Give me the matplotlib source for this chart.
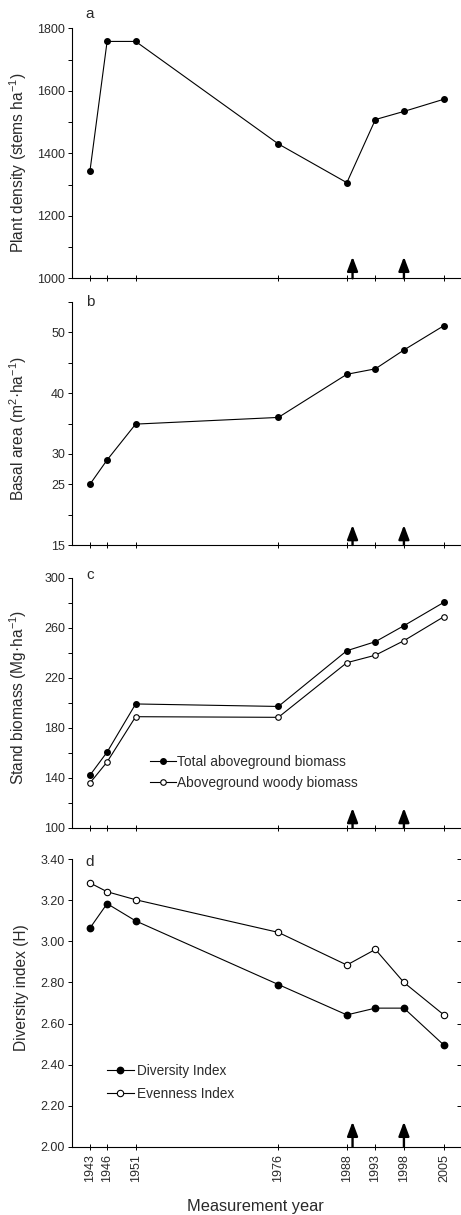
import matplotlib
matplotlib.use('Agg')
import matplotlib.pyplot as plt
import numpy as np

plt.rcParams['font.family'] = ['Liberation Sans', 'DejaVu Sans']
plt.rcParams['mathtext.fontset'] = 'custom'
plt.rcParams['mathtext.rm'] = 'Liberation Sans'
plt.rcParams['mathtext.default'] = 'regular'

# Data
years = [1943, 1946, 1951, 1976, 1988, 1993, 1998, 2005]
treatment_years = [1989, 1998]

plant_density = [1344, 1758, 1758, 1430, 1306, 1508, 1534, 1573]
basal_area = [25.0, 29.0, 34.9, 36.0, 43.1, 44.0, 47.1, 51.1]
total_biomass = [142, 160.5, 199, 197, 241.6, 248.8, 261.6, 280.3]
woody_biomass = [135.8, 152.6, 188.8, 188.3, 232, 238, 249.6, 268.8]
diversity_index = [3.065, 3.184, 3.10, 2.79, 2.642, 2.675, 2.675, 2.495]
evenness_index = [3.285, 3.242, 3.203, 3.044, 2.885, 2.961, 2.80, 2.642]

density_ticks = [1000, 1100, 1200, 1300, 1400, 1500, 1600, 1700, 1800]
density_labels = ['1000', '', '1200', '', '1400', '', '1600', '', '1800']
basal_ticks = [15, 20, 25, 30, 35, 40, 45, 50, 55]
basal_labels = ['15', '', '25', '30', '', '40', '', '50', '']
biomass_ticks = [100, 120, 140, 160, 180, 200, 220, 240, 260, 280, 300]
biomass_labels = ['100', '', '140', '', '180', '', '220', '', '260', '', '300']
div_ticks = [2.0, 2.2, 2.4, 2.6, 2.8, 3.0, 3.2, 3.4]
div_labels = ['2.00', '2.20', '2.40', '2.60', '2.80', '3.00', '3.20', '3.40']

W, H = 461, 1215
fig = plt.figure(figsize=(W / 100, H / 100), dpi=100)

txt = '#2a2a2a'
label_x = -0.11

def make_ax(top, bottom):
    left = 72
    ax = fig.add_axes([left / W, 1 - bottom / H, (W - left) / W, (bottom - top) / H])
    for s in ['top', 'right']:
        ax.spines[s].set_visible(False)
    ax.spines['left'].set_linewidth(0.8)
    ax.spines['bottom'].set_linewidth(0.8)
    ax.set_xlim(1939.85, 2008)
    ax.set_xticks(years)
    ax.tick_params(axis='x', direction='inout', length=5, width=0.7, labelbottom=False)
    ax.tick_params(axis='y', direction='out', length=3, width=0.7, pad=2,
                   labelsize=9, labelcolor=txt)
    return ax

def add_arrows(ax, h):
    tr = ax.get_xaxis_transform()
    for yr in treatment_years:
        ax.annotate('', xy=(yr, h), xytext=(yr, 0), xycoords=tr, textcoords=tr,
                    arrowprops=dict(arrowstyle='-|>,head_width=0.32,head_length=0.85',
                                    lw=1.7, color='black', shrinkA=0, shrinkB=0,
                                    mutation_scale=10))

filled = dict(color='black', lw=0.8, marker='o', markersize=4, markerfacecolor='black',
              markeredgecolor='black')
hollow = dict(color='black', lw=0.8, marker='o', markersize=4, markerfacecolor='white',
              markeredgecolor='black', markeredgewidth=0.8)

# a - plant density
ax1 = make_ax(28.3, 278.3)
ax1.plot(years, plant_density, **filled)
ax1.set_ylim(1000, 1800)
ax1.set_yticks(density_ticks)
ax1.set_yticklabels(density_labels)
ax1.set_ylabel('Plant density (stems ha$^{-1}$)', fontsize=11.2, color=txt)
ax1.yaxis.set_label_coords(label_x, 0.463)
add_arrows(ax1, 21.6 / 250)

# b - basal area
ax2 = make_ax(302, 545)
ax2.plot(years, basal_area, **filled)
ax2.set_ylim(15, 55)
ax2.set_yticks(basal_ticks)
ax2.set_yticklabels(basal_labels)
ax2.set_ylabel('Basal area (m$^{2}$·ha$^{-1}$)', fontsize=11.2, color=txt)
ax2.yaxis.set_label_coords(label_x, 0.48)
add_arrows(ax2, 20 / 243)

# c - stand biomass
ax3 = make_ax(577.7, 827.7)
ax3.plot(years, total_biomass, label='Total aboveground biomass', **filled)
ax3.plot(years, woody_biomass, label='Aboveground woody biomass', **hollow)
ax3.set_ylim(100, 300)
ax3.set_yticks(biomass_ticks)
ax3.set_yticklabels(biomass_labels)
ax3.set_ylabel('Stand biomass (Mg·ha$^{-1}$)', fontsize=11.2, color=txt)
ax3.yaxis.set_label_coords(label_x, 0.523)
ax3.legend(loc='upper left', bbox_to_anchor=((143 - 72) / 389, (827.7 - 748) / 250),
           frameon=False, fontsize=9.9, handlelength=1.9, handletextpad=0.1,
           labelspacing=0.5, borderpad=0, labelcolor=txt)
add_arrows(ax3, 19.7 / 250)

# d - diversity
ax4 = make_ax(859.3, 1146.7)
ax4.plot(years, diversity_index, label='Diversity Index', color='black', lw=0.8, marker='o',
         markersize=4.6, markerfacecolor='black', markeredgecolor='black')
ax4.plot(years, evenness_index, label='Evenness Index', color='black', lw=0.8, marker='o',
         markersize=4.6, markerfacecolor='white', markeredgecolor='black', markeredgewidth=0.8)
ax4.set_ylim(2.0, 3.4)
ax4.set_yticks(div_ticks)
ax4.set_yticklabels(div_labels)
ax4.set_ylabel('Diversity index (H)', fontsize=11.2, color=txt)
ax4.yaxis.set_label_coords(label_x, 0.552)
ax4.tick_params(axis='x', labelbottom=True, labelrotation=90, labelsize=9,
                labelcolor=txt, pad=3)
ax4.legend(loc='upper left', bbox_to_anchor=((100 - 72) / 389, (1146.7 - 1057) / 287.4),
           frameon=False, fontsize=9.8, handlelength=2.0, handletextpad=0.2,
           labelspacing=0.65, borderpad=0, labelcolor=txt)
sec = ax4.secondary_yaxis('right')
sec.spines['right'].set_visible(False)
sec.set_yticks(div_ticks[1:])
sec.tick_params(direction='in', length=3, width=0.7, labelright=False)
add_arrows(ax4, 25 / 287.4)

# panel letters
for letter, ypx in zip(['a', 'b', 'c', 'd'], [14, 302, 575, 862]):
    fig.text(90 / W, 1 - ypx / H, letter, fontsize=11, color=txt, ha='center', va='center')

fig.text(255 / W, 1 - 1207 / H, 'Measurement year', fontsize=11.8, color=txt,
         ha='center', va='center')

fig.savefig('out.png', dpi=100)
